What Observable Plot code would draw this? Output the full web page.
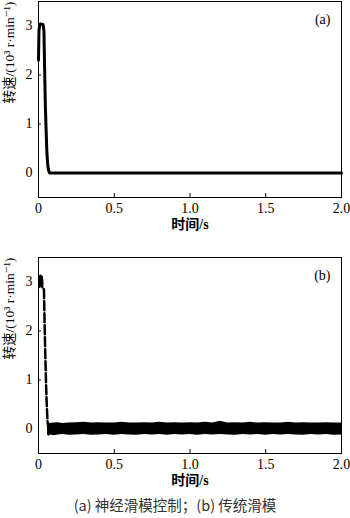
<!DOCTYPE html>
<html>
<head>
<meta charset="utf-8">
<script src="https://cdn.jsdelivr.net/npm/d3@7"></script>
<script src="https://cdn.jsdelivr.net/npm/@observablehq/plot@0.6"></script>
<style>
  html, body { margin: 0; padding: 0; background: #fff; width: 350px; height: 518px; overflow: hidden; }
  svg { display: block; }
  svg, svg text { font-family: "Liberation Serif", "Times New Roman", Times, "DejaVu Serif", serif, "Noto Sans CJK SC" !important; }
  #caption { width: 350px; text-align: center; font-family: "Noto Sans CJK SC", "Liberation Sans", sans-serif; font-size: 14.5px; color: #333; line-height: 16px; margin-top: 2px; }
</style>
</head>
<body>
<div id="a"></div>
<div id="b"></div>
<div id="caption">(a) 神经滑模控制；(b) 传统滑模</div>
<script>
// ---- data ----
const xTicks = [0, 0.5, 1, 1.5, 2];
const xTickLabels = ["0", "0.5", "1.0", "1.5", "2.0"];
const yTicks = [0, 1, 2, 3];
const innerXTicks = [0.5, 1, 1.5];
const innerYTicks = [1, 2, 3];
const xLabel = "时间/s";
const yLabel = "转速/(10³ r·min⁻¹)";
const panelLabels = ["(a)", "(b)"];

// (a) neural sliding mode control
const tA = [0, 0.003, 0.008, 0.012, 0.03, 0.036, 0.04, 0.045, 0.05, 0.055, 0.06, 0.065, 0.07, 0.075, 0.08, 2.0];
const vA = [2.3, 2.9, 3.03, 3.04, 3.03, 2.9, 2.2, 1.4, 0.9, 0.45, 0.2, 0.08, 0.02, 0, 0, 0];

// (b) conventional sliding mode: chattering plateau envelope
const tBplat = [0.001, 0.004, 0.008, 0.012, 0.016, 0.02, 0.024, 0.028, 0.032, 0.036];
const upBplat = [3.05, 3.2, 3.14, 3.12, 3.16, 3.12, 3.14, 3.1, 3.13, 3.0];
const loBplat = [2.7, 2.84, 2.88, 2.86, 2.9, 2.85, 2.88, 2.86, 2.84, 2.75];
// (b) falling edge
const tBdrop = [0.036, 0.04, 0.045, 0.05, 0.055, 0.06, 0.065];
const vBdrop = [2.85, 2.2, 1.5, 0.9, 0.45, 0.15, 0.02];
// (b) chattering envelope around zero
const tBnoise = [0.06, 0.07, 0.08, 0.1, 0.13, 0.16, 0.2, 0.25, 0.3, 0.35, 0.4, 0.45, 0.5, 0.55, 0.6, 0.65, 0.7, 0.75, 0.8, 0.85, 0.9, 0.95, 1.0, 1.05, 1.1, 1.15, 1.2, 1.25, 1.3, 1.35, 1.4, 1.45, 1.5, 1.55, 1.6, 1.65, 1.7, 1.75, 1.8, 1.85, 1.9, 1.95, 2.0];
const upBnoise = [0.1, 0.12, 0.11, 0.12, 0.13, 0.11, 0.12, 0.13, 0.14, 0.12, 0.13, 0.12, 0.12, 0.14, 0.12, 0.12, 0.13, 0.12, 0.14, 0.12, 0.13, 0.12, 0.13, 0.12, 0.14, 0.12, 0.16, 0.12, 0.13, 0.12, 0.14, 0.12, 0.13, 0.12, 0.12, 0.14, 0.12, 0.13, 0.12, 0.12, 0.13, 0.12, 0.12];
const loBnoise = [-0.13, -0.15, -0.12, -0.14, -0.12, -0.11, -0.13, -0.12, -0.11, -0.13, -0.12, -0.11, -0.13, -0.11, -0.12, -0.13, -0.11, -0.12, -0.11, -0.13, -0.11, -0.12, -0.11, -0.13, -0.11, -0.12, -0.11, -0.12, -0.13, -0.11, -0.12, -0.11, -0.13, -0.11, -0.12, -0.11, -0.12, -0.13, -0.11, -0.12, -0.11, -0.13, -0.12];

// ---- build ----
function commonMarks(label) {
  return [
    Plot.frame({stroke: "black", strokeWidth: 1}),
    Plot.axisX({ticks: xTicks, tickFormat: (d) => xTickLabels[xTicks.indexOf(d)], tickSize: 0, tickPadding: 6, label: null, fontSize: 14}),
    Plot.axisY({ticks: yTicks, tickFormat: (d) => String(d), tickSize: 0, tickPadding: 6, label: null, fontSize: 14}),
    Plot.ruleX(innerXTicks, {x: (d) => d, y1: -0.5, y2: -0.42, stroke: "black", strokeWidth: 1}),
    Plot.ruleY(innerYTicks, {y: (d) => d, x1: 0, x2: 0.02, stroke: "black", strokeWidth: 1}),
    Plot.text([xLabel], {text: (d) => d, frameAnchor: "bottom", dy: 31, fontSize: 14, fontWeight: "bold"}),
    Plot.text([yLabel], {text: (d) => d, frameAnchor: "left", rotate: -90, dx: -29, dy: 4, fontSize: 13.5}),
    Plot.text([label], {text: (d) => d, frameAnchor: "top-right", dx: -11, dy: 13, fontSize: 14})
  ];
}

function panel(marks, height, marginTop, marginBottom) {
  return Plot.plot({
    width: 350,
    height,
    marginTop,
    marginBottom,
    marginLeft: 38,
    marginRight: 9,
    style: {color: "black", background: "white"},
    x: {domain: [0, 2]},
    y: {domain: [-0.5, 3.5]},
    marks
  });
}

const dataA = tA.map((t, i) => ({t, v: vA[i]}));
const plotA = panel([
  ...commonMarks(panelLabels[0]),
  Plot.line(dataA, {x: "t", y: "v", stroke: "black", strokeWidth: 3, strokeLinejoin: "round"})
], 255, 1, 58);
document.getElementById("a").append(plotA);

const plat = tBplat.map((t, i) => ({t, hi: upBplat[i], lo: loBplat[i]}));
const drop = tBdrop.map((t, i) => ({t, v: vBdrop[i]}));
const noise = tBnoise.map((t, i) => ({t, hi: upBnoise[i], lo: loBnoise[i]}));
const plotB = panel([
  ...commonMarks(panelLabels[1]),
  Plot.areaY(plat, {x: "t", y1: "lo", y2: "hi", fill: "black"}),
  Plot.line(drop, {x: "t", y: "v", stroke: "black", strokeWidth: 2.5, strokeDasharray: "9,3"}),
  Plot.areaY(noise, {x: "t", y1: "lo", y2: "hi", fill: "black"})
], 240, 2, 42);
document.getElementById("b").append(plotB);
</script>
</body>
</html>
